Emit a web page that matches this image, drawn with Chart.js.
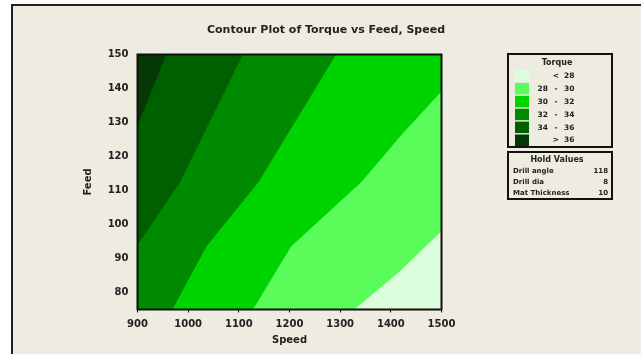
<!DOCTYPE html>
<html>
<head>
<meta charset="utf-8">
<script src="https://cdn.jsdelivr.net/npm/chart.js@4.4.0/dist/chart.umd.min.js"></script>
<style>
  html, body { margin: 0; padding: 0; background: #fff; overflow: hidden; }
  body { width: 641px; height: 354px; position: relative; }
  #panel { position: absolute; left: 11px; top: 4px; right: 0; bottom: 0; background: #eeebe1; border-top: 2px solid #222; border-left: 2px solid #222; }
  #wrap { position: absolute; left: 0; top: 0; width: 641px; height: 354px; }
</style>
</head>
<body>
<div id="panel"></div>
<div id="wrap"><canvas id="grafico-torque" width="641" height="354"></canvas></div>
<script>
// Ejes
const speedTicks = [900, 1000, 1100, 1200, 1300, 1400, 1500];
const feedTicks = [80, 90, 100, 110, 120, 130, 140, 150];

// Niveles de torque (de claro a oscuro)
const levelLow = [null, 28, 30, 32, 34, 36];
const levelHigh = [28, 30, 32, 34, 36, null];

// Borde superior de cada banda (Speed, Feed)
const edge28Speed = [1329, 1415, 1500];
const edge28Feed = [75, 85.7, 97.9];
const edge30Speed = [1129, 1204, 1343, 1421, 1500];
const edge30Feed = [75, 93.5, 112.5, 126.2, 139];
const edge32Speed = [970, 1037, 1140, 1293, 1500];
const edge32Feed = [75, 93.5, 112.5, 150, 150];
const edge34Speed = [900, 985, 1109, 1500];
const edge34Feed = [93.7, 112.5, 150, 150];
const edge36Speed = [900, 958, 1500];
const edge36Feed = [128.7, 150, 150];
const topSpeed = [900, 1500];
const topFeed = [150, 150];

// Valores fijos
const holdNames = ['Drill angle', 'Drill dia', 'Mat Thickness'];
const holdValues = [118, 8, 10];

const bandColors = ['#dcfedc', '#5afc5a', '#00d400', '#008a00', '#006000', '#053805'];
const textColor = '#222';

const edges = [
    [edge28Speed, edge28Feed],
    [edge30Speed, edge30Feed],
    [edge32Speed, edge32Feed],
    [edge34Speed, edge34Feed],
    [edge36Speed, edge36Feed],
    [topSpeed, topFeed]
];

const bandLabel = (i) => {
    if (levelLow[i] === null) return '< ' + levelHigh[i];
    if (levelHigh[i] === null) return '> ' + levelLow[i];
    return levelLow[i] + ' - ' + levelHigh[i];
};

// index 0 se dibuja encima
const datasets = edges.map(([xs, ys], i) => ({
    label: bandLabel(i),
    data: xs.map((x, k) => ({ x: x, y: ys[k] })),
    backgroundColor: bandColors[i],
    borderColor: bandColors[i],
    borderWidth: 1,
    pointRadius: 0,
    fill: 'start',
    tension: 0
}));

// Marco del area del grafico
const plotFrame = {
    id: 'plotFrame',
    afterDatasetsDraw(chart) {
        const { ctx, chartArea: a } = chart;
        ctx.save();
        ctx.strokeStyle = '#111';
        ctx.lineWidth = 2;
        ctx.strokeRect(a.left, a.top, a.right - a.left, a.bottom - a.top);
        ctx.restore();
    }
};

// Leyenda de Torque y valores fijos
const torqueLegend = {
    id: 'torqueLegend',
    afterDraw(chart) {
        const ctx = chart.ctx;
        ctx.save();
        ctx.strokeStyle = '#111';
        ctx.lineWidth = 2;
        ctx.strokeRect(508, 54, 104, 93);
        ctx.strokeRect(508, 152, 104, 47);

        ctx.fillStyle = textColor;
        ctx.font = 'bold 8px "DejaVu Sans"';
        ctx.textBaseline = 'middle';
        ctx.textAlign = 'center';
        ctx.fillText('Torque', 557, 63);

        for (let i = 0; i < levelLow.length; i++) {
            const y0 = 70 + i * 12.9;
            const cy = y0 + 6;
            ctx.fillStyle = bandColors[i];
            ctx.fillRect(515, y0, 14, 11.5);
            ctx.fillStyle = textColor;
            ctx.font = 'bold 7.5px "DejaVu Sans"';
            if (levelLow[i] === null) {
                ctx.textAlign = 'center';
                ctx.fillText('<', 556, cy);
                ctx.textAlign = 'left';
                ctx.fillText(String(levelHigh[i]), 564, cy);
            } else if (levelHigh[i] === null) {
                ctx.textAlign = 'center';
                ctx.fillText('>', 556, cy);
                ctx.textAlign = 'left';
                ctx.fillText(String(levelLow[i]), 564, cy);
            } else {
                ctx.textAlign = 'right';
                ctx.fillText(String(levelLow[i]), 548, cy);
                ctx.textAlign = 'center';
                ctx.fillText('-', 556, cy);
                ctx.textAlign = 'left';
                ctx.fillText(String(levelHigh[i]), 564, cy);
            }
        }

        ctx.font = 'bold 8px "DejaVu Sans"';
        ctx.textAlign = 'center';
        ctx.fillText('Hold Values', 557, 160);
        ctx.font = 'bold 7px "DejaVu Sans"';
        holdNames.forEach((name, i) => {
            const y = 171 + i * 11;
            ctx.textAlign = 'left';
            ctx.fillText(name, 513, y);
            ctx.textAlign = 'right';
            ctx.fillText(String(holdValues[i]), 608, y);
        });
        ctx.restore();
    }
};

const ctxTorque = document.getElementById('grafico-torque').getContext('2d');
const tickFont = { family: 'DejaVu Sans', size: 10, weight: 'bold' };

const chartTorque = new Chart(ctxTorque, {
    type: 'line',
    data: { datasets: datasets },
    options: {
        responsive: false,
        animation: false,
        layout: { padding: { left: 11, top: 0, right: 0, bottom: 0 } },
        plugins: {
            legend: { display: false },
            tooltip: { enabled: false },
            title: {
                display: true,
                text: 'Contour Plot of Torque vs Feed, Speed',
                color: textColor,
                font: { family: 'DejaVu Sans', size: 11, weight: 'bold' },
                padding: { top: 24, bottom: 17.3 }
            }
        },
        scales: {
            x: {
                type: 'linear',
                min: 900,
                max: 1500,
                afterBuildTicks: (s) => { s.ticks = speedTicks.map(v => ({ value: v })); },
                afterFit: (s) => { s.height = 44.5; },
                ticks: { color: textColor, font: tickFont, padding: 6, maxRotation: 0, callback: (v) => String(v) },
                grid: { display: true, drawOnChartArea: false, drawTicks: true, tickLength: 3, color: '#111' },
                border: { display: false },
                title: { display: true, text: 'Speed', color: textColor, font: tickFont, padding: { top: 0, bottom: 8 } }
            },
            y: {
                type: 'linear',
                min: 75,
                max: 150,
                afterBuildTicks: (s) => { s.ticks = feedTicks.map(v => ({ value: v })); },
                afterFit: (s) => { s.width = 126.5; },
                ticks: { color: textColor, font: tickFont, padding: 9, callback: (v) => String(v) },
                grid: { display: false, drawTicks: false },
                border: { display: false },
                title: { display: true, text: 'Feed', color: textColor, font: tickFont, padding: { top: 71, bottom: 0 } }
            },
            y2: {
                position: 'right',
                display: true,
                afterFit: (s) => { s.width = 199.5; },
                ticks: { display: false },
                grid: { display: false },
                border: { display: false }
            }
        }
    },
    plugins: [plotFrame, torqueLegend]
});
</script>
</body>
</html>
